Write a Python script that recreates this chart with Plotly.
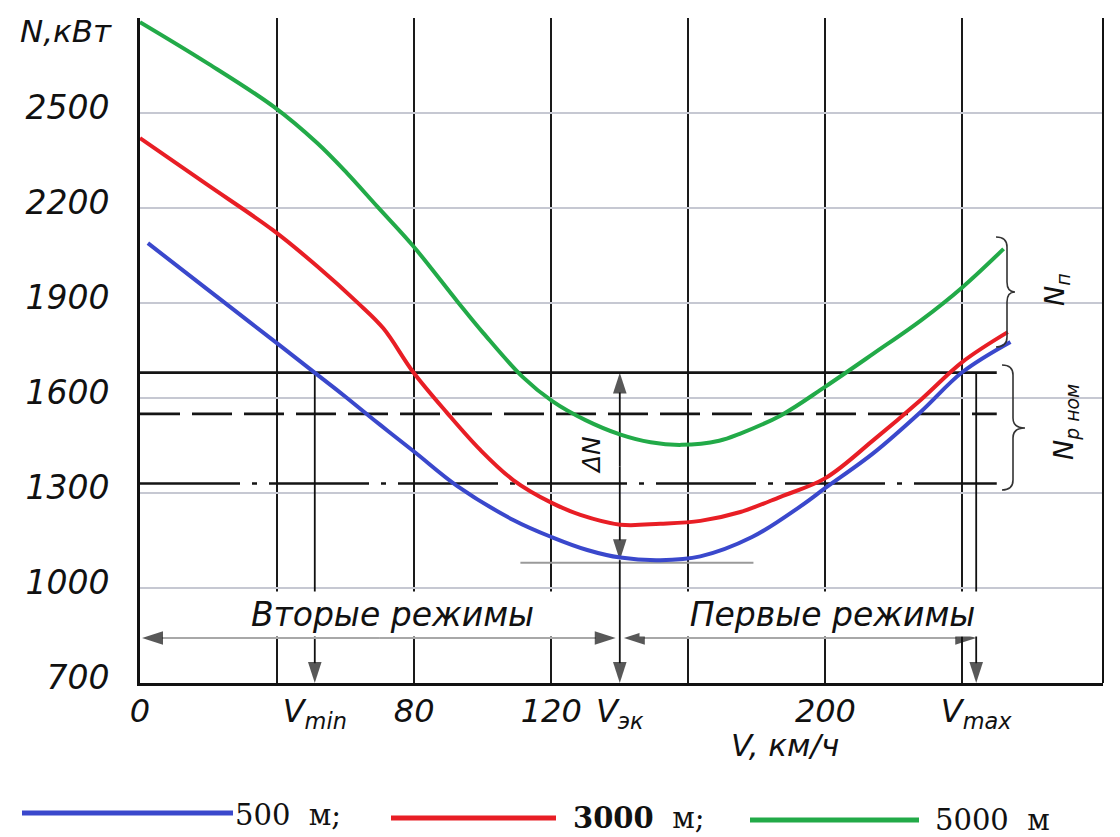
import plotly.graph_objects as go

# ---------------- data ----------------
# altitude 500 m
speed_500 = [2.3, 19.3, 32.1, 51.7, 60.4, 70.1, 80.3, 92.6, 108.9, 120.3, 130.5, 140.2,
             151.8, 163.5, 178.6, 192.7, 200.0, 214.0, 227.8, 240.0, 254.0]
power_500 = [2089, 1946, 1839, 1674, 1600, 1515, 1428, 1322, 1215, 1160, 1120, 1096,
             1088, 1100, 1161, 1258, 1316, 1426, 1556, 1682, 1777]
# altitude 3000 m
speed_3000 = [0, 19.3, 38.8, 51.7, 63.4, 71.0, 79.7, 89.6, 99.3, 108.9, 120.3, 128.5, 140.2,
              151.8, 163.5, 175.2, 186.9, 200.0, 214.0, 227.8, 240.0, 253.2]
power_3000 = [2421, 2276, 2130, 2016, 1902, 1820, 1682, 1553, 1436, 1341, 1268, 1231, 1200,
              1203, 1212, 1240, 1288, 1347, 1467, 1594, 1714, 1808]
# altitude 5000 m
speed_5000 = [0, 19.3, 39.0, 51.7, 60.4, 69.2, 79.7, 92.6, 100.2, 111.8, 120.3, 130.0, 140.0,
              149.0, 158.0, 169.0, 175.0, 187.0, 200.0, 214.0, 228.0, 240.0, 252.0]
power_5000 = [2787, 2660, 2520, 2405, 2310, 2205, 2080, 1905, 1805, 1665, 1590, 1530, 1485,
              1460, 1452, 1465, 1487, 1545, 1636, 1740, 1846, 1950, 2071]

series_names = ["500 м", "3000 м", "5000 м"]
series_colors = ["rgb(58,72,204)", "rgb(232,30,37)", "rgb(34,170,72)"]

# horizontal power levels (solid, dashed, dash-dot)
level_values = [1680, 1550, 1330]
level_speed_range = [0, 250]
# short line under the minimum of the 500 m curve
min_mark_speed = [111, 179]
min_mark_power = [1080, 1080]

# characteristic speeds
v_min, v_ek, v_max = 51, 140, 244

x_tick_vals = [0, v_min, 80, 120, v_ek, 200, v_max]
x_tick_text = ["0", "V<sub>min</sub>", "80", "120", "V<sub>эк</sub>", "200", "V<sub>max</sub>"]
x_grid_vals = [40, 80, 120, 160, 200, 240]
y_tick_vals = [700, 1000, 1300, 1600, 1900, 2200, 2500]
y_tick_text = ["700", "1000", "1300", "1600", "1900", "2200", "2500"]
y_extra_grid = [2800]

# ---------------- layout helpers (pixel -> paper) ----------------
OFF = 8                      # default page margin of the browser
L, R, T, B = 140, 1103, 18, 683
W, H = R - L, B - T
FIG_W, FIG_H = 1120 - OFF, 837 - OFF


def PX(x):
    return (x - L) / W


def PY(y):
    return (B - y) / H


ITAL = dict(family="DejaVu Sans", color="#111", style="italic")
INK = "#111"

fig = go.Figure()

# level lines
dashes = ["solid", "40px,12px", "100px,12px,5px,12px"]
for lv, dsh in zip(level_values, dashes):
    fig.add_trace(go.Scatter(x=level_speed_range, y=[lv, lv], mode="lines",
                             line=dict(color="#151515", width=2.6, dash=dsh),
                             showlegend=False, hoverinfo="skip"))
fig.add_trace(go.Scatter(x=min_mark_speed, y=min_mark_power, mode="lines",
                         line=dict(color="#9a9a9a", width=2), showlegend=False,
                         hoverinfo="skip"))


def arrow(xs, ys, line_color=INK, head_color=INK, width=1.8, size=22):
    """Line from the first point to the last, arrow head on the last point."""
    fig.add_trace(go.Scatter(
        x=xs, y=ys, mode="lines+markers", showlegend=False, hoverinfo="skip",
        line=dict(color=line_color, width=width),
        marker=dict(symbol="arrow", angleref="previous", color=head_color,
                    size=[0] * (len(xs) - 1) + [size], line=dict(width=0))))


n_low = min(power_500)
regime_y = 842
# ΔN double arrow and the V_эк drop line
mid = (level_values[0] + n_low) / 2
arrow([v_ek, v_ek], [mid, level_values[0]])
arrow([v_ek, v_ek], [mid, n_low])
arrow([v_ek, v_ek], [n_low, 700])
# V_min and V_max drop lines
arrow([v_min, v_min], [level_values[0], 700])
arrow([v_max, v_max], [level_values[0], 700])
# regime arrows
g = "#a8a8a8"
arrow([v_ek / 2, 0.6], [regime_y, regime_y], line_color=g, width=2)
arrow([v_ek / 2, v_ek - 1.2], [regime_y, regime_y], line_color=g, width=2)
arrow([(v_ek + v_max) / 2, v_ek + 1.2], [regime_y, regime_y], line_color=g, width=2)
arrow([(v_ek + v_max) / 2, v_max], [regime_y, regime_y], line_color=g, width=2)

for sx, sy, nm, col in zip([speed_500, speed_3000, speed_5000],
                           [power_500, power_3000, power_5000],
                           series_names, series_colors):
    fig.add_trace(go.Scatter(x=sx, y=sy, mode="lines", name=nm,
                             line=dict(color=col, width=4, shape="spline", smoothing=1.0),
                             showlegend=False))

shapes = []
# right border
shapes.append(dict(type="line", xref="paper", yref="paper", x0=1, x1=1, y0=0, y1=1,
                   line=dict(color=INK, width=2)))


def brace(x0, xs, xt, yt, ym, yb, r):
    p = (f"M {PX(x0)},{PY(yt)} Q {PX(xs)},{PY(yt)} {PX(xs)},{PY(yt + r)} "
         f"L {PX(xs)},{PY(ym - r)} Q {PX(xs)},{PY(ym)} {PX(xt)},{PY(ym)} "
         f"Q {PX(xs)},{PY(ym)} {PX(xs)},{PY(ym + r)} L {PX(xs)},{PY(yb - r)} "
         f"Q {PX(xs)},{PY(yb)} {PX(x0)},{PY(yb)}")
    return dict(type="path", xref="paper", yref="paper", path=p,
                line=dict(color="#333", width=1.6))


shapes.append(brace(996, 1007, 1015, 237, 292, 347, 10))
shapes.append(brace(1002, 1013, 1025, 365, 428, 490, 10))

# legend lines
for (x0, x1, y), col in zip([(22, 233, 813), (391, 556, 818), (750, 919, 820)], series_colors):
    shapes.append(dict(type="line", xref="paper", yref="paper", x0=PX(x0), x1=PX(x1),
                       y0=PY(y), y1=PY(y), line=dict(color=col, width=5)))

ann = []


def label(x, y, text, size, font=None, angle=0, xanchor="center", **kw):
    f = dict(ITAL if font is None else font)
    f["size"] = size
    ann.append(dict(x=PX(x), y=PY(y), xref="paper", yref="paper", text=text,
                    showarrow=False, textangle=angle, font=f,
                    xanchor=xanchor, yanchor="middle", **kw))


# regime texts (white boxes interrupt gridlines)
label(392, 614, "Вторые режимы", 33, bgcolor="white", width=385, height=44, borderpad=0)
label(832, 614, "Первые режимы", 33, bgcolor="white", width=385, height=44, borderpad=0)

# other labels
label(66, 31, "N,кВт", 31)
label(785, 745, "V, км/ч", 31)
label(591, 455, "ΔN", 25, angle=-90)
label(1057, 290, "N<sub>п</sub>", 27, angle=-90)
label(1066, 422, "N<sub>р ном</sub>", 27, angle=-90)

# legend texts
SERIF = dict(family="DejaVu Serif", color=INK)
label(233, 815, "500  м;", 29, font=SERIF, xanchor="left")
label(571, 818, "<b>3000</b>  м;", 29, font=SERIF, xanchor="left")
label(933, 820, "5000  м", 29, font=SERIF, xanchor="left")

fig.update_layout(
    width=FIG_W, height=FIG_H,
    margin=dict(l=L - OFF, r=FIG_W - (R - OFF), t=T - OFF, b=FIG_H - (B - OFF)),
    paper_bgcolor="white", plot_bgcolor="white",
    shapes=shapes, annotations=ann,
    showlegend=False,
    xaxis=dict(range=[0, 281], tickvals=x_tick_vals, ticktext=x_tick_text,
               showgrid=False, zeroline=False, showline=True, linecolor=INK,
               linewidth=3, ticks="", ticklabelstandoff=-2,
               tickfont=dict(size=32, **ITAL),
               minor=dict(tickvals=x_grid_vals, showgrid=True, gridcolor="#1a1a1a",
                          gridwidth=2, ticks="")),
    yaxis=dict(range=[700, 2800], tickvals=y_tick_vals, ticktext=y_tick_text,
               showgrid=True, gridcolor="#c6c8d2", gridwidth=2, zeroline=False,
               showline=True, linecolor=INK, linewidth=3, ticks="",
               ticklabelstandoff=21, ticklabelshift=-6,
               tickfont=dict(size=33, **ITAL),
               minor=dict(tickvals=y_extra_grid, showgrid=True, gridcolor="#c6c8d2",
                          gridwidth=2, ticks="")),
)

fig.write_html("out.html")
